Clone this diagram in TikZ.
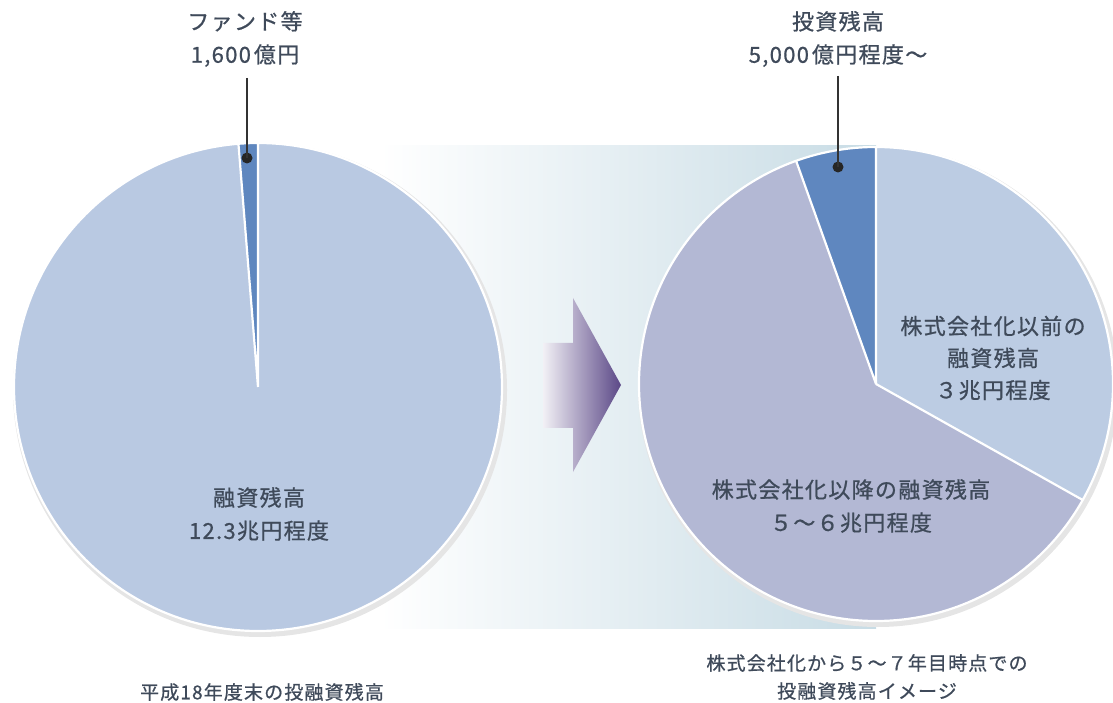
\documentclass[tikz,border=0pt]{standalone}
\usepackage{fontspec}
\setmainfont{Noto Sans CJK JP}[LetterSpace=6,FakeBold=0.8]
\usetikzlibrary{positioning}
\definecolor{txt}{HTML}{3F4A5A}
\definecolor{paleblue}{HTML}{B9C9E2}
\definecolor{fundblue}{HTML}{5F87BF}
\definecolor{lavender}{HTML}{B3B8D4}
\definecolor{bandend}{HTML}{C8DCE5}
\definecolor{arrowend}{HTML}{5B4887}
\begin{document}
\begin{tikzpicture}[x=1pt,y=1pt,
 lbl/.style={text=txt,align=center,font=\fontsize{22}{33}\selectfont},
 captxt/.style={text=txt,align=center,font=\fontsize{19}{28}\selectfont},
 sep/.style={white,line width=2.2pt},
 dot/.style={circle,fill=black!85,inner sep=0pt,minimum size=11pt},
 leader/.style={draw=black!80,line width=1.1pt}]
 \useasboundingbox (0,0) rectangle (1113,702);
 \coordinate (L) at (258,315);
 \coordinate (R) at (876,318);
 % band
 \shade[left color=white,right color=bandend] (380,74) rectangle (876,556);
 % arrow
 \shade[left color=arrowend!8,right color=arrowend]
 (543,359)--(573,359)--(573,404)--(621,317)--(573,230)--(573,274)--(543,274)--cycle;
 % shadows
 \fill[black!10] (L) ++(2,-3) circle (247);
 \fill[black!10] (R) ++(2,-3) circle (240);
 % left pie
 \fill[paleblue] (L) -- ++(94.6:244) arc[start angle=94.6,end angle=450,radius=244] -- cycle;
 \fill[fundblue] (L) -- ++(90:244) arc[start angle=90,end angle=94.6,radius=244] -- cycle;
 \draw[sep] (L) circle (244) (L) -- ++(90:244) (L) -- ++(94.6:244);
 % right pie
 \fill[paleblue!95!white] (R) -- ++(-29.3:237) arc[start angle=-29.3,end angle=90,radius=237] -- cycle;
 \fill[fundblue] (R) -- ++(90:237) arc[start angle=90,end angle=109.7,radius=237] -- cycle;
 \fill[lavender] (R) -- ++(109.7:237) arc[start angle=109.7,end angle=330.7,radius=237] -- cycle;
 \draw[sep] (R) circle (237) (R) -- ++(90:237) (R) -- ++(109.7:237) (R) -- ++(-29.3:237);
 \path
 (245,663) node[lbl] (fundtxt) {ファンド等\\1,600\hspace{3pt}億円} % <<< 左上
 (838,663) node[lbl] (invtxt) {投資残高\\5,000\hspace{3pt}億円程度〜} % <<< 右上
 (259,188) node[lbl] (loantxt) {融資残高\\12.3兆円程度}
 (993,344) node[lbl,font=\fontsize{22}{32}\selectfont] (beforetxt) {株式会社化以前の\\融資残高\\３兆円程度}
 (851,196) node[lbl] (aftertxt) {株式会社化以降の融資残高\\５〜６兆円程度}
 (262,10) node[captxt] (capL) {平成18年度末の投融資残高}
 (867,25) node[captxt] (capR) {株式会社化から５〜７年目時点での\\投融資残高イメージ}
 (247,544) node[dot] (funddot) {}
 (838,535) node[dot] (invdot) {};
 \draw[leader] (funddot |- 0,624) -- (funddot.center);
 \draw[leader] (invdot |- 0,626) -- (invdot.center);
\end{tikzpicture}
\end{document}
